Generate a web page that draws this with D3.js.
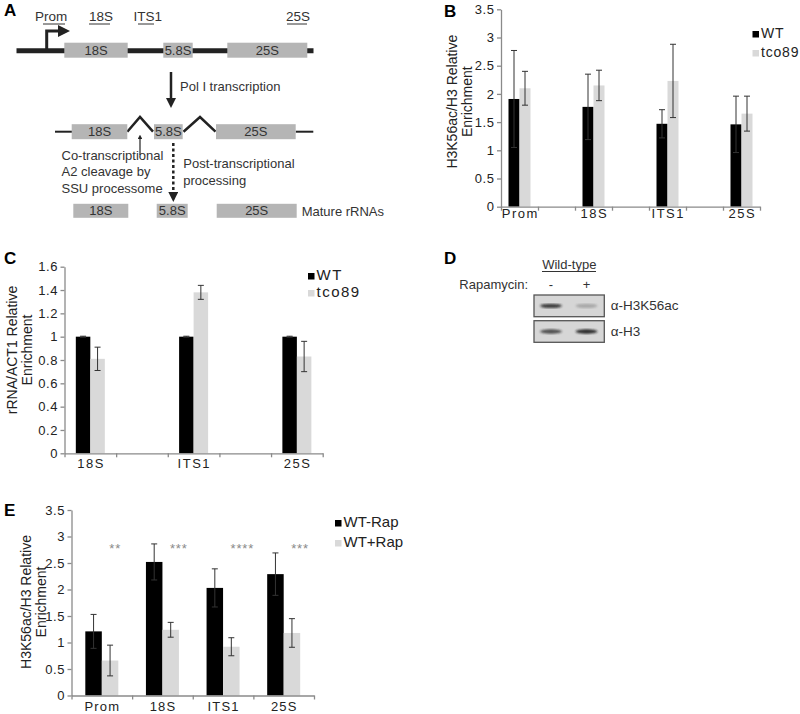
<!DOCTYPE html>
<html><head><meta charset="utf-8">
<script src="https://cdn.jsdelivr.net/npm/d3@7"></script>
<style>body{margin:0;background:#fff;} text{font-family:"Liberation Sans",Arial,sans-serif;}</style>
</head><body>
<script>
// ---------- DATA ----------
// Panel B
const bCats = ["Prom","18S","ITS1","25S"];
const bSeries = ["WT","tco89"];
const bWT = [1.91,1.77,1.47,1.46];
const bWTerr = [0.86,0.58,0.25,0.50];
const bTco = [2.10,2.15,2.23,1.65];
const bTcoErr = [0.30,0.27,0.65,0.31];
const bTicks = [0,0.5,1,1.5,2,2.5,3,3.5];
// Panel C
const cCats = ["18S","ITS1","25S"];
const cSeries = ["WT","tco89"];
const cWT = [1,1,1];
const cWTerr = [0.004,0.004,0.004];
const cTco = [0.81,1.38,0.83];
const cTcoErr = [0.10,0.06,0.13];
const cTicks = [0,0.2,0.4,0.6,0.8,1,1.2,1.4,1.6];
// Panel E
const eCats = ["Prom","18S","ITS1","25S"];
const eSeries = ["WT-Rap","WT+Rap"];
const eMinus = [1.21,2.52,2.03,2.29];
const eMinusErr = [0.32,0.34,0.36,0.40];
const ePlus = [0.66,1.24,0.92,1.18];
const ePlusErr = [0.29,0.14,0.17,0.27];
const eSig = ["**","***","****","***"];
const eTicks = [0,0.5,1,1.5,2,2.5,3,3.5];
// Panel D (western blot)
const dLanes = ["-","+"];
const dRows = ["\u03b1-H3K56ac","\u03b1-H3"];
const dBand = [[0.85,0.25],[0.75,0.95]];

const BLACK="#000", GREY="#d9d9d9", AXIS="#8a8a8a", TXT="#222";
const svg = d3.select("body").append("svg").attr("width",800).attr("height",714);
const fmt = d => String(+d.toFixed(1));

function barPanel(o){
  const g = svg.append("g");
  const y = d3.scaleLinear().domain([0,o.ymax]).range([o.yb,o.yt]);
  const x = d3.scaleLinear().domain([0,o.slots]).range([o.xl,o.xr]);
  // y axis
  const ya = g.append("g").attr("transform",`translate(${o.xl},0)`)
    .call(d3.axisLeft(y).tickValues(o.ticks).tickSize(4).tickSizeOuter(0).tickFormat(fmt));
  ya.select(".domain").attr("stroke",AXIS).attr("stroke-width",1.3);
  ya.selectAll(".tick line").attr("stroke",AXIS).attr("stroke-width",1.3);
  ya.selectAll(".tick text").attr("x",-6.5).attr("fill",TXT)
    .style("font-size",o.tickFont+"px").style("letter-spacing","0.6px").style("font-family","Liberation Sans");
  // bars
  o.series.forEach((s,si)=>{
    g.selectAll(null).data(s.vals).enter().append("rect")
      .attr("x",(d,i)=>x(o.pos[i]) + (si===0?-o.bw:0))
      .attr("width",o.bw).attr("y",d=>y(d)).attr("height",d=>y(0)-y(d)).attr("fill",s.color);
  });
  // error bars
  o.series.forEach((s,si)=>{
    s.vals.forEach((v,i)=>{
      const cx = x(o.pos[i]) + (si===0?-o.bw/2:o.bw/2);
      const e = s.errs[i];
      g.append("line").attr("x1",cx).attr("x2",cx).attr("y1",y(v+e)).attr("y2",y(v-e)).attr("stroke","#333").attr("stroke-width",1);
      [v+e,v-e].forEach(t=>g.append("line").attr("x1",cx-3).attr("x2",cx+3).attr("y1",y(t)).attr("y2",y(t)).attr("stroke","#333").attr("stroke-width",1));
    });
  });
  // x axis
  const xa = g.append("g").attr("transform",`translate(0,${o.yb})`)
    .call(d3.axisBottom(x).tickValues(d3.range(o.slots+1)).tickSize(4).tickSizeOuter(0).tickFormat(""));
  xa.select(".domain").attr("stroke",AXIS).attr("stroke-width",1.3);
  xa.selectAll(".tick line").attr("stroke",AXIS).attr("stroke-width",1.3);
  g.selectAll(null).data(o.cats).enter().append("text")
    .attr("x",(d,i)=>x(o.pos[i])+o.tickLS/2).attr("y",o.labY).attr("text-anchor","middle")
    .attr("fill",TXT).style("font-size",o.tickFont+"px").style("letter-spacing",o.tickLS+"px").text(d=>d);
  // y title
  const t = g.append("text").attr("transform",`translate(${o.titleX},${o.titleY}) rotate(-90)`)
    .attr("text-anchor","middle").attr("fill",TXT).style("font-size","14px");
  o.title.forEach((line,k)=>t.append("tspan").attr("x",0).attr("dy",k===0?0:15).text(line));
  // legend
  o.series.forEach((s,si)=>{
    g.append("rect").attr("x",o.legX).attr("y",o.legY+si*o.legDy-7).attr("width",6.5).attr("height",6.5).attr("fill",s.color);
    g.append("text").attr("x",o.legX+8.5).attr("y",o.legY+si*o.legDy).attr("fill",TXT)
      .style("font-size",o.legFont+"px").style("letter-spacing",o.legLS+"px").text(s.name);
  });
  return {x,y,g};
}

// Panel B
barPanel({xl:501,xr:760,slots:7,pos:[0.5,2.5,4.5,6.5],yb:206.7,yt:9.3,ymax:3.5,ticks:bTicks,bw:11,
  cats:bCats,labY:218,tickFont:13,tickLS:1.5,title:["H3K56ac/H3 Relative","Enrichment"],titleX:456.5,titleY:101.7,
  series:[{name:bSeries[0],vals:bWT,errs:bWTerr,color:BLACK},{name:bSeries[1],vals:bTco,errs:bTcoErr,color:GREY}],
  legX:752.5,legY:38,legDy:19,legFont:14,legLS:0.8});
// Panel C
barPanel({xl:64.5,xr:322.7,slots:5,pos:[0.5,2.5,4.5],yb:453.3,yt:266.7,ymax:1.6,ticks:cTicks,bw:14.5,
  cats:cCats,labY:468,tickFont:13,tickLS:1.5,title:["rRNA/ACT1 Relative","Enrichment"],titleX:16.5,titleY:350,
  series:[{name:cSeries[0],vals:cWT,errs:cWTerr,color:BLACK},{name:cSeries[1],vals:cTco,errs:cTcoErr,color:GREY}],
  legX:308,legY:280,legDy:17,legFont:15,legLS:1.5});
// Panel E
const E = barPanel({xl:71.5,xr:314,slots:4,pos:[0.5,1.5,2.5,3.5],yb:695.5,yt:510,ymax:3.5,ticks:eTicks,bw:16.5,
  cats:eCats,labY:711,tickFont:13,tickLS:1.2,title:["H3K56ac/H3 Relative","Enrichment"],titleX:31,titleY:602,
  series:[{name:eSeries[0],vals:eMinus,errs:eMinusErr,color:BLACK},{name:eSeries[1],vals:ePlus,errs:ePlusErr,color:GREY}],
  legX:335,legY:527,legDy:20,legFont:15,legLS:0});
E.g.selectAll(null).data(eSig).enter().append("text")
  .attr("x",(d,i)=>E.x(i+0.5)+7.5).attr("y",E.y(2.8)+6).attr("fill","#8a8a8a")
  .style("font-size","13px").style("letter-spacing","0.8px").text(d=>d);

// Panel labels
[["A",4,16],["B",444,17],["C",4,264],["D",444,264],["E",4,516]].forEach(([l,x,y])=>
  svg.append("text").attr("x",x).attr("y",y).style("font-size","17px").style("font-weight","bold").text(l));

// ---------- Panel A diagram ----------
const A = svg.append("g");
const boxFill="#b5b5b5", dark="#222";
function box(x1,x2,yc,h,label){
  A.append("rect").attr("x",x1).attr("y",yc-h/2).attr("width",x2-x1).attr("height",h).attr("fill",boxFill);
  A.append("text").attr("x",(x1+x2)/2).attr("y",yc+4.5).attr("text-anchor","middle").attr("fill","#333").style("font-size","13px").text(label);
}
const defs = svg.append("defs");
defs.append("marker").attr("id","ah").attr("viewBox","0 0 10 10").attr("refX",5).attr("refY",5)
  .attr("markerWidth",4).attr("markerHeight",4).attr("orient","auto-start-reverse")
  .append("path").attr("d","M0,0 L10,5 L0,10 z").attr("fill",dark);
// row 1
A.append("line").attr("x1",16.5).attr("x2",313.5).attr("y1",50.7).attr("y2",50.7).attr("stroke",dark).attr("stroke-width",5);
box(64.3,127.7,50.2,15,"18S"); box(163.3,192.7,50.2,15,"5.8S"); box(227.3,307.3,50.2,15,"25S");
A.append("path").attr("d","M46.7,50 V31 H64").attr("fill","none").attr("stroke",dark).attr("stroke-width",3)
  .attr("marker-end","url(#ah)");
// probe labels with underlines
[["P","rom",35,21,43,65],["","18S",89,21,89,110],["I","TS1",133.5,21,138,154],["","25S",286,21,287,307]].forEach(([a,b,x,y,u1,u2])=>{
  A.append("text").attr("x",x).attr("y",y).attr("fill","#333").style("font-size","13.5px").text(a+b);
  A.append("line").attr("x1",u1).attr("x2",u2).attr("y1",y+3).attr("y2",y+3).attr("stroke","#333").attr("stroke-width",1);
});
// down arrow
A.append("line").attr("x1",171).attr("x2",171).attr("y1",72).attr("y2",103).attr("stroke",dark).attr("stroke-width",2.5).attr("marker-end","url(#ah)");
A.append("text").attr("x",180).attr("y",91).attr("fill","#333").style("font-size","13px").text("Pol I transcription");
// row 2
A.append("line").attr("x1",55).attr("x2",72).attr("y1",131.7).attr("y2",131.7).attr("stroke",dark).attr("stroke-width",2);
A.append("line").attr("x1",295.7).attr("x2",313.3).attr("y1",131.7).attr("y2",131.7).attr("stroke",dark).attr("stroke-width",2);
A.append("path").attr("d","M127.3,131.7 L140,117 L153,131.7").attr("fill","none").attr("stroke",dark).attr("stroke-width",2.5);
A.append("path").attr("d","M183.5,131.7 L200,117 L215.5,131.7").attr("fill","none").attr("stroke",dark).attr("stroke-width",2.5);
box(71.7,127.3,131.7,15,"18S"); box(154,182.7,131.7,15,"5.8S"); box(216,295.7,131.7,15,"25S");
// cleavage arrow
A.append("line").attr("x1",140).attr("x2",140).attr("y1",155).attr("y2",137).attr("stroke",dark).attr("stroke-width",1.2).attr("marker-end","url(#ah)");
["Co-transcriptional","A2 cleavage by","SSU processome"].forEach((t,k)=>
  A.append("text").attr("x",61.5).attr("y",159.5+k*16.5).attr("fill","#333").style("font-size","13px").text(t));
// dashed arrow
A.append("line").attr("x1",173.3).attr("x2",173.3).attr("y1",143).attr("y2",197).attr("stroke",dark).attr("stroke-width",2.5)
  .attr("stroke-dasharray","3,2.5").attr("marker-end","url(#ah)");
["Post-transcriptional","processing"].forEach((t,k)=>
  A.append("text").attr("x",183.3).attr("y",168+k*16.5).attr("fill","#333").style("font-size","13px").text(t));
// row 3
box(73.3,128.3,210.8,14,"18S"); box(156.7,187.7,210.8,14,"5.8S"); box(216.7,296.7,210.8,14,"25S");
A.append("text").attr("x",301.7).attr("y",215.5).attr("fill","#333").style("font-size","13px").text("Mature rRNAs");

// ---------- Panel D blot ----------
const D = svg.append("g");
D.append("text").attr("x",569.3).attr("y",268.5).attr("text-anchor","middle").attr("fill","#333").style("font-size","13px").text("Wild-type");
D.append("line").attr("x1",542).attr("x2",596).attr("y1",271.5).attr("y2",271.5).attr("stroke","#333").attr("stroke-width",1);
D.append("text").attr("x",528).attr("y",289).attr("text-anchor","end").attr("fill","#333").style("font-size","13px").text("Rapamycin:");
const laneX = [551,586.5];
dLanes.forEach((l,i)=>D.append("text").attr("x",laneX[i]).attr("y",289).attr("text-anchor","middle").attr("fill","#333").style("font-size","13px").text(l));
defs.append("filter").attr("id","blur").append("feGaussianBlur").attr("stdDeviation",1.3);
const rowY=[[295,316.7],[320.7,342.3]];
dRows.forEach((r,ri)=>{
  const [y1,y2]=rowY[ri];
  D.append("rect").attr("x",534).attr("y",y1).attr("width",70.3).attr("height",y2-y1).attr("fill","#d6d6d6").attr("stroke","#555").attr("stroke-width",1.3);
  dBand[ri].forEach((v,li)=>{
    D.append("ellipse").attr("cx",laneX[li]).attr("cy",(y1+y2)/2).attr("rx",11).attr("ry",2.2)
      .attr("fill","#222").attr("opacity",v).attr("filter","url(#blur)");
  });
  D.append("text").attr("x",610.7).attr("y",(y1+y2)/2+4.5).attr("fill","#333").style("font-size","13.5px").text(r);
});
</script>
</body></html>
